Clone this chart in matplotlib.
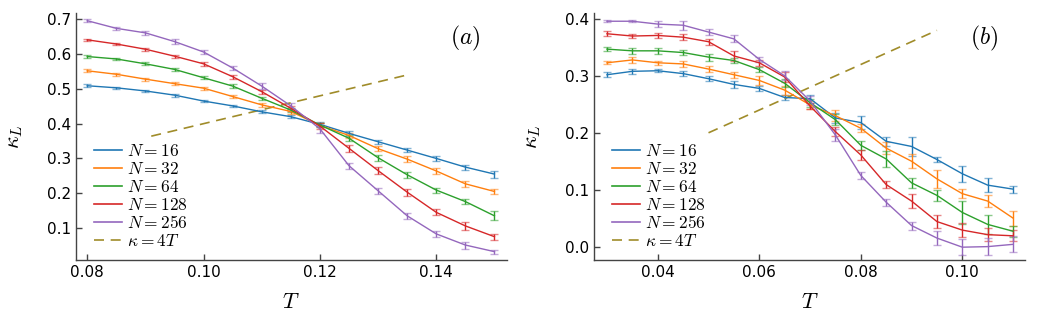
import numpy as np
import matplotlib
matplotlib.use('Agg')
import matplotlib.pyplot as plt
from matplotlib.lines import Line2D

plt.rcParams['mathtext.fontset'] = 'cm'
plt.rcParams['font.family'] = 'DejaVu Sans'

COLORS = ['#1f77b4', '#ff7f0e', '#2ca02c', '#d62728', '#9467bd']
LINE_COLOR = '#a08c2a'
SIZES = [16, 32, 64, 128, 256]

# panel (a)
T_a = [0.080, 0.085, 0.090, 0.095, 0.100, 0.105, 0.110, 0.115,
       0.120, 0.125, 0.130, 0.135, 0.140, 0.145, 0.150]
kappa_a = {
    16:  [0.509, 0.503, 0.494, 0.482, 0.465, 0.451, 0.434, 0.420,
          0.398, 0.372, 0.348, 0.324, 0.300, 0.275, 0.255],
    32:  [0.552, 0.542, 0.528, 0.515, 0.502, 0.478, 0.454, 0.435,
          0.395, 0.366, 0.328, 0.298, 0.264, 0.227, 0.205],
    64:  [0.593, 0.586, 0.572, 0.556, 0.532, 0.508, 0.473, 0.439,
          0.396, 0.358, 0.302, 0.253, 0.209, 0.176, 0.135],
    128: [0.641, 0.629, 0.614, 0.594, 0.572, 0.535, 0.492, 0.444,
          0.393, 0.329, 0.265, 0.203, 0.145, 0.106, 0.075],
    256: [0.696, 0.674, 0.661, 0.636, 0.606, 0.560, 0.508, 0.451,
          0.385, 0.279, 0.207, 0.135, 0.083, 0.051, 0.032],
}
err_a = {
    16:  [0.004, 0.003, 0.004, 0.004, 0.004, 0.004, 0.004, 0.005,
          0.006, 0.007, 0.006, 0.006, 0.006, 0.007, 0.010],
    32:  [0.004, 0.004, 0.004, 0.004, 0.004, 0.005, 0.006, 0.006,
          0.006, 0.007, 0.008, 0.008, 0.008, 0.009, 0.007],
    64:  [0.003, 0.004, 0.004, 0.005, 0.005, 0.005, 0.005, 0.006,
          0.006, 0.008, 0.008, 0.009, 0.007, 0.008, 0.013],
    128: [0.003, 0.004, 0.004, 0.004, 0.005, 0.006, 0.006, 0.007,
          0.008, 0.010, 0.010, 0.010, 0.009, 0.012, 0.009],
    256: [0.004, 0.004, 0.005, 0.006, 0.006, 0.006, 0.008, 0.008,
          0.012, 0.009, 0.008, 0.008, 0.009, 0.010, 0.006],
}

# panel (b)
T_b = [0.030, 0.035, 0.040, 0.045, 0.050, 0.055, 0.060, 0.065, 0.070,
       0.075, 0.080, 0.085, 0.090, 0.095, 0.100, 0.105, 0.110]
kappa_b = {
    16:  [0.302, 0.308, 0.309, 0.304, 0.295, 0.285, 0.278, 0.262, 0.260,
          0.226, 0.218, 0.185, 0.176, 0.153, 0.128, 0.108, 0.101],
    32:  [0.323, 0.328, 0.323, 0.321, 0.312, 0.302, 0.292, 0.275, 0.249,
          0.230, 0.208, 0.173, 0.150, 0.119, 0.093, 0.080, 0.050],
    64:  [0.347, 0.344, 0.344, 0.341, 0.333, 0.327, 0.311, 0.287, 0.253,
          0.223, 0.178, 0.154, 0.112, 0.090, 0.060, 0.039, 0.027],
    128: [0.374, 0.370, 0.371, 0.368, 0.360, 0.335, 0.323, 0.298, 0.247,
          0.202, 0.161, 0.109, 0.080, 0.044, 0.029, 0.021, 0.019],
    256: [0.396, 0.396, 0.391, 0.389, 0.377, 0.365, 0.329, 0.300, 0.256,
          0.196, 0.125, 0.078, 0.037, 0.015, -0.001, 0.000, 0.004],
}
err_b = {
    16:  [0.004, 0.004, 0.003, 0.005, 0.004, 0.006, 0.005, 0.005, 0.007,
          0.008, 0.012, 0.008, 0.016, 0.005, 0.014, 0.012, 0.006],
    32:  [0.003, 0.005, 0.004, 0.005, 0.005, 0.005, 0.008, 0.008, 0.007,
          0.010, 0.007, 0.010, 0.012, 0.016, 0.008, 0.011, 0.013],
    64:  [0.003, 0.005, 0.005, 0.005, 0.006, 0.005, 0.004, 0.007, 0.007,
          0.010, 0.008, 0.014, 0.009, 0.009, 0.020, 0.016, 0.010],
    128: [0.004, 0.004, 0.005, 0.005, 0.005, 0.008, 0.005, 0.008, 0.006,
          0.008, 0.009, 0.006, 0.012, 0.012, 0.012, 0.012, 0.010],
    256: [0.002, 0.002, 0.006, 0.008, 0.005, 0.006, 0.005, 0.008, 0.008,
          0.010, 0.006, 0.006, 0.007, 0.012, 0.014, 0.015, 0.014],
}

# kappa = 4T reference segments
line_T_a = [0.091, 0.135]
line_T_b = [0.050, 0.095]


def draw_panel(ax, T, kappa, err, line_T, label, xlim, ylim, xticks, yticks):
    handles = []
    for n, c in zip(SIZES, COLORS):
        eb = ax.errorbar(T, kappa[n], yerr=err[n], color=c, lw=1.0, elinewidth=1.0,
                         capsize=3, capthick=1.0)
        for cap in eb[1]:
            cap.set_alpha(0.55)
        handles.append(Line2D([], [], color=c, lw=1.2, label=rf'$N={n}$'))
    lt = np.array(line_T)
    ax.plot(lt, 4 * lt, color=LINE_COLOR, lw=1.2, dashes=(6, 4))
    handles.append(Line2D([], [], color=LINE_COLOR, lw=1.2, dashes=(6, 4), label=r'$\kappa=4T$'))

    ax.set_xlim(*xlim)
    ax.set_ylim(*ylim)
    ax.set_xticks(xticks)
    ax.set_xticklabels([f'{t:.2f}' for t in xticks])
    ax.set_yticks(yticks)
    ax.set_yticklabels([f'{v:.1f}' for v in yticks])
    for s in ['top', 'right']:
        ax.spines[s].set_visible(False)
    for s in ['left', 'bottom']:
        ax.spines[s].set_color('#444444')
        ax.spines[s].set_linewidth(1.0)
    ax.tick_params(direction='in', length=4, width=1.0, color='#444444', labelsize=11)
    ax.set_xlabel(r'$T$', fontsize=16, labelpad=9)
    ax.set_ylabel(r'$\kappa_L$', fontsize=16, labelpad=16)
    ax.text(0.905, 0.895, label, transform=ax.transAxes, fontsize=17, ha='center', va='center')
    ax.legend(handles=handles, loc='lower left', bbox_to_anchor=(0.042, 0.04), frameon=False,
              fontsize=12.5, handlelength=1.6, handletextpad=0.3, labelspacing=0.0,
              borderpad=0, borderaxespad=0)


fig = plt.figure(figsize=(10.38, 3.12), dpi=100)
ax1 = fig.add_axes([0.0732, 0.1667, 0.4149, 0.7926])
ax2 = fig.add_axes([0.5723, 0.1667, 0.4152, 0.7926])

draw_panel(ax1, T_a, kappa_a, err_a, line_T_a, r'$(a)$',
           (0.07806, 0.1521), (0.008, 0.719),
           [0.08, 0.10, 0.12, 0.14], [0.1, 0.2, 0.3, 0.4, 0.5, 0.6, 0.7])
draw_panel(ax2, T_b, kappa_b, err_b, line_T_b, r'$(b)$',
           (0.02745, 0.11235), (-0.0235, 0.411),
           [0.04, 0.06, 0.08, 0.10], [0.0, 0.1, 0.2, 0.3, 0.4])

fig.savefig('out.png', dpi=100)
